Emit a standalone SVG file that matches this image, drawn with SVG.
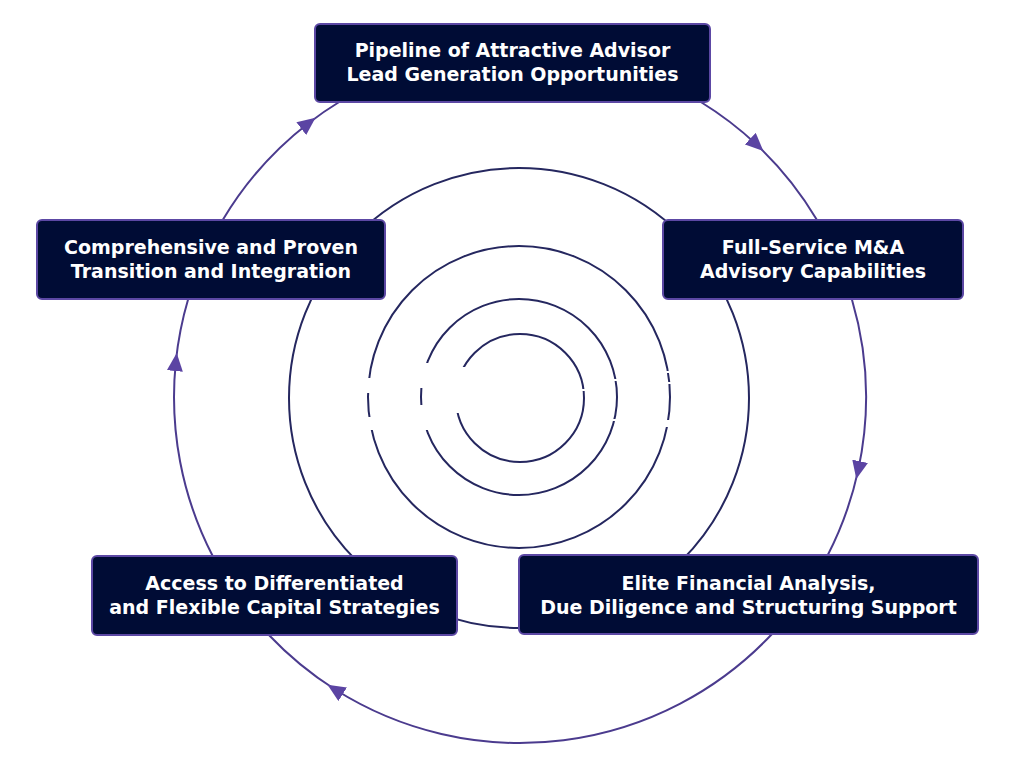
<svg xmlns="http://www.w3.org/2000/svg" width="1024" height="768" viewBox="0 0 1024 768">
<style>
.ring{fill:none;stroke:#25275f;stroke-width:2}
.conn{fill:none;stroke:#4b3b8e;stroke-width:2;marker-mid:url(#arr)}
.box{fill:#000c35;stroke:#5c48a4;stroke-width:2}
.lbl{fill:#ffffff;font-family:"DejaVu Sans","Liberation Sans",sans-serif;font-weight:bold;font-size:19px;text-anchor:middle}
.gap{fill:#ffffff}
</style>
<defs>
<marker id="arr" markerUnits="userSpaceOnUse" markerWidth="18" markerHeight="16" refX="9" refY="8" orient="auto" viewBox="0 0 18 16">
<path d="M0,0 L18,8 L0,16 Z" fill="#5b44a3"/>
</marker>
</defs>
<rect width="1024" height="768" fill="#ffffff"/>
<g id="rings">
<circle class="ring" cx="519" cy="398" r="230"/>
<circle class="ring" cx="519" cy="397" r="151"/>
<circle class="ring" cx="519" cy="397" r="98"/>
<circle class="ring" cx="520" cy="398" r="64"/>
</g>
<g id="ring-gaps">
<rect class="gap" x="362" y="378" width="16" height="15"/>
<rect class="gap" x="362" y="417" width="16" height="13"/>
<rect class="gap" x="416" y="363" width="16" height="25"/>
<rect class="gap" x="416" y="405" width="16" height="25"/>
<rect class="gap" x="452" y="367" width="18" height="46"/>
<rect class="gap" x="662" y="371" width="14" height="2"/>
<rect class="gap" x="662" y="382" width="14" height="2"/>
<rect class="gap" x="662" y="420" width="14" height="7"/>
<rect class="gap" x="610" y="379" width="14" height="2"/>
<rect class="gap" x="610" y="419" width="14" height="2"/>
<rect class="gap" x="578" y="389" width="14" height="2"/>
</g>
<g id="connectors">
<path class="conn" d="M700.8,102 A346,346 0 0 1 756.8,144.8 A346,346 0 0 1 817,220"/>
<path class="conn" d="M851.8,299 A346,346 0 0 1 858.2,470.1 A346,346 0 0 1 827.8,555"/>
<path class="conn" d="M772,634 A346,346 0 0 1 335.1,689.5 A346,346 0 0 1 268.9,635"/>
<path class="conn" d="M212.7,556 A346,346 0 0 1 175.8,362 A346,346 0 0 1 188.2,299"/>
<path class="conn" d="M222.7,220 A346,346 0 0 1 308.4,123.2 A346,346 0 0 1 339.2,102"/>
</g>
<g id="node-pipeline">
<rect class="box" x="315" y="24" width="395" height="78" rx="5"/>
<text class="lbl" x="512.5" y="57">Pipeline of Attractive Advisor</text>
<text class="lbl" x="512.5" y="81">Lead Generation Opportunities</text>
</g>
<g id="node-fullservice">
<rect class="box" x="663" y="220" width="300" height="79" rx="5"/>
<text class="lbl" x="813" y="254">Full-Service M&amp;A</text>
<text class="lbl" x="813" y="278">Advisory Capabilities</text>
</g>
<g id="node-elite">
<rect class="box" x="519" y="555" width="459" height="79" rx="5"/>
<text class="lbl" x="748.5" y="590">Elite Financial Analysis,</text>
<text class="lbl" x="748.5" y="614">Due Diligence and Structuring Support</text>
</g>
<g id="node-capital">
<rect class="box" x="92" y="556" width="365" height="79" rx="5"/>
<text class="lbl" x="274.5" y="590">Access to Differentiated</text>
<text class="lbl" x="274.5" y="614">and Flexible Capital Strategies</text>
</g>
<g id="node-transition">
<rect class="box" x="37" y="220" width="348" height="79" rx="5"/>
<text class="lbl" x="211" y="254">Comprehensive and Proven</text>
<text class="lbl" x="211" y="278">Transition and Integration</text>
</g>
</svg>
